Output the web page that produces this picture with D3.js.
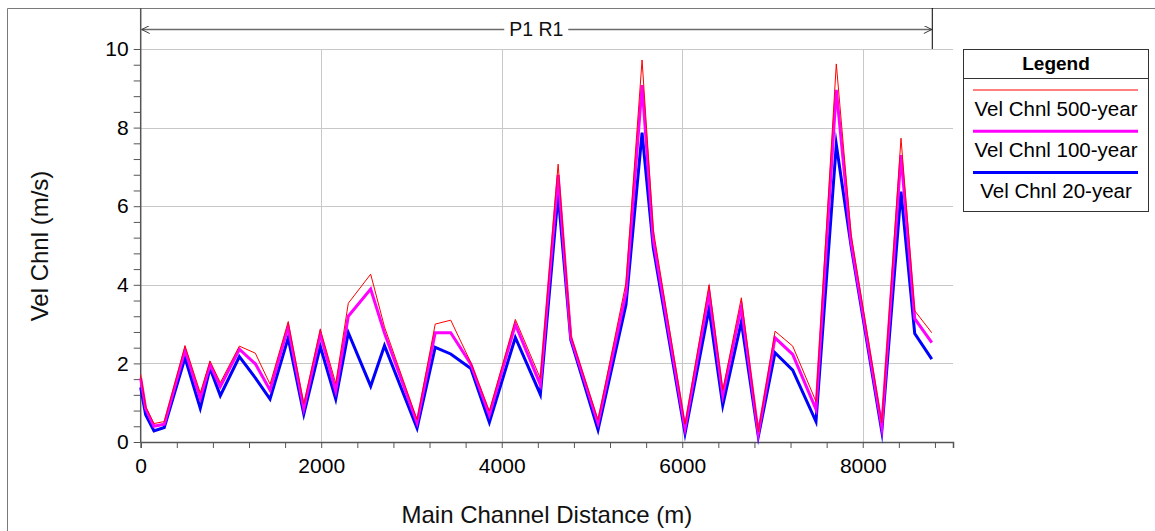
<!DOCTYPE html>
<html>
<head>
<meta charset="utf-8">
<script src="https://cdn.jsdelivr.net/npm/d3@7"></script>
<style>
  html, body { margin: 0; padding: 0; background: #fff; }
  svg { display: block; font-family: "Liberation Sans", Arial, sans-serif; }
</style>
</head>
<body>
<svg id="chart" width="1155" height="531"></svg>
<script>
// Main channel stations (m) and channel velocities (m/s) for each profile
const stations = [0, 55, 147, 261, 491, 660, 768, 882, 1093, 1270, 1433, 1634, 1807, 1990, 2161,
  2300, 2548, 2701, 3062, 3263, 3435, 3658, 3863, 4151, 4428, 4625, 4765, 5067, 5377, 5555,
  5679, 6031, 6297, 6449, 6655, 6843, 7028, 7224, 7482, 7707, 7870, 8211, 8424, 8576, 8765];
const vel500 = [1.72, 0.90, 0.47, 0.52, 2.45, 1.25, 2.06, 1.51, 2.44, 2.26, 1.47, 3.06, 0.97, 2.87, 1.49,
  3.53, 4.27, 2.93, 0.57, 3.00, 3.10, 2.02, 0.79, 3.12, 1.62, 7.07, 2.72, 0.56, 4.05, 9.72,
  5.40, 0.45, 4.00, 1.32, 3.67, 0.26, 2.82, 2.44, 1.03, 9.62, 5.30, 0.49, 7.73, 3.34, 2.78];
const vel100 = [1.62, 0.85, 0.40, 0.45, 2.34, 1.11, 1.97, 1.41, 2.36, 1.99, 1.32, 2.93, 0.85, 2.75, 1.30,
  3.20, 3.89, 2.77, 0.49, 2.78, 2.78, 1.98, 0.69, 2.99, 1.46, 6.80, 2.66, 0.48, 3.80, 9.08,
  5.15, 0.35, 3.80, 1.19, 3.44, 0.22, 2.65, 2.23, 0.83, 8.96, 5.10, 0.39, 7.30, 3.14, 2.53];
const vel20 = [1.39, 0.69, 0.28, 0.37, 2.14, 0.86, 1.88, 1.18, 2.17, 1.63, 1.09, 2.65, 0.71, 2.43, 1.09,
  2.78, 1.42, 2.45, 0.35, 2.41, 2.24, 1.87, 0.50, 2.66, 1.21, 6.30, 2.60, 0.31, 3.50, 7.87,
  4.95, 0.22, 3.39, 0.93, 3.06, 0.14, 2.27, 1.83, 0.52, 7.57, 5.00, 0.27, 6.37, 2.76, 2.11];

const xTicks = [0, 2000, 4000, 6000, 8000];
const yTicks = [0, 2, 4, 6, 8, 10];
const reachLabel = "P1 R1";
const legendTitle = "Legend";
const xTitle = "Main Channel Distance (m)";
const yTitle = "Vel Chnl (m/s)";

const series = [
  { name: "Vel Chnl 500-year", values: vel500, color: "#ff0000", width: 1 },
  { name: "Vel Chnl 100-year", values: vel100, color: "#ff00ff", width: 3 },
  { name: "Vel Chnl 20-year",  values: vel20,  color: "#0000ff", width: 3 }
];

const svg = d3.select("#chart");
const plot = { left: 140.7, right: 953, top: 49, bottom: 442 };

const x = d3.scaleLinear().domain([0, 9000]).range([plot.left, plot.right]);
const y = d3.scaleLinear().domain([0, 10]).range([plot.bottom, plot.top]);

// outer frame
svg.append("path")
  .attr("d", "M7.5,531 V8.5 H1155")
  .attr("fill", "none").attr("stroke", "#7a7a7a").attr("stroke-width", 1);

// grid
const grid = svg.append("g").attr("stroke", "#c8c8c8").attr("stroke-width", 1);
grid.selectAll("line.h").data(yTicks.filter(d => d > 0)).join("line")
  .attr("x1", plot.left).attr("x2", plot.right)
  .attr("y1", d => Math.round(y(d)) + 0.5).attr("y2", d => Math.round(y(d)) + 0.5);
grid.selectAll("line.v").data(xTicks.filter(d => d > 0)).join("line")
  .attr("x1", d => Math.round(x(d)) + 0.5).attr("x2", d => Math.round(x(d)) + 0.5)
  .attr("y1", plot.top).attr("y2", plot.bottom);

// axes
const xAxis = d3.axisBottom(x).tickValues(d3.range(0, 9001, 400)).tickSize(6)
  .tickFormat(d => xTicks.includes(d) ? d : "");
const gx = svg.append("g").attr("transform", `translate(0,${plot.bottom})`).call(xAxis);
gx.select(".domain").attr("stroke", "#555").attr("stroke-width", 1.5);
gx.selectAll(".tick line").attr("stroke", "#555");
gx.selectAll(".tick text").attr("font-size", 21).attr("fill", "#000")
  .attr("font-family", "Liberation Sans, Arial, sans-serif").attr("dy", "1.05em");

const yAxis = d3.axisLeft(y).tickValues(d3.range(0, 10.001, 0.4).map(v => +v.toFixed(1))).tickSize(7)
  .tickFormat(d => yTicks.includes(d) ? d : "");
const gy = svg.append("g").attr("transform", `translate(${plot.left},0)`).call(yAxis);
gy.select(".domain").remove();
gy.selectAll(".tick line").attr("stroke", "#555");
gy.selectAll(".tick text").attr("font-size", 21).attr("fill", "#000")
  .attr("font-family", "Liberation Sans, Arial, sans-serif").attr("x", -12);
// vertical axis line reaching up to the frame
svg.append("line").attr("x1", plot.left).attr("x2", plot.left).attr("y1", 8).attr("y2", plot.bottom)
  .attr("stroke", "#555").attr("stroke-width", 1.5);

// reach annotation
const reachEnd = x(stations[stations.length - 1]);
const defs = svg.append("defs");
["start", "end"].forEach(k => {
  defs.append("marker").attr("id", "arr-" + k)
    .attr("viewBox", "0 0 10 10").attr("refX", k === "end" ? 10 : 0).attr("refY", 5)
    .attr("markerWidth", 10).attr("markerHeight", 8).attr("markerUnits", "userSpaceOnUse")
    .attr("orient", "auto")
    .append("path")
    .attr("d", k === "end" ? "M0,0 L10,5 L0,10" : "M10,0 L0,5 L10,10")
    .attr("fill", "none").attr("stroke", "#333").attr("stroke-width", 1.2);
});
const reachY = 29;
const labelX = (plot.left + reachEnd) / 2;
svg.append("line").attr("x1", plot.left + 1).attr("x2", labelX - 32).attr("y1", reachY + 0.5).attr("y2", reachY + 0.5)
  .attr("stroke", "#6a6a6a").attr("stroke-width", 1.5).attr("marker-start", "url(#arr-start)");
svg.append("line").attr("x1", labelX + 32).attr("x2", reachEnd).attr("y1", reachY + 0.5).attr("y2", reachY + 0.5)
  .attr("stroke", "#6a6a6a").attr("stroke-width", 1.5).attr("marker-end", "url(#arr-end)");
svg.append("line").attr("x1", reachEnd + 0.5).attr("x2", reachEnd + 0.5).attr("y1", 8).attr("y2", plot.top)
  .attr("stroke", "#000").attr("stroke-width", 1);
svg.append("text").attr("x", labelX).attr("y", reachY + 7).attr("text-anchor", "middle")
  .attr("font-size", 19.5).attr("fill", "#111").text(reachLabel);

// data lines (20-year at the back, 500-year on top)
const line = d3.line().x((d, i) => x(stations[i])).y(d => y(d));
svg.append("g").selectAll("path").data(series.slice().reverse()).join("path")
  .attr("d", s => line(s.values))
  .attr("fill", "none").attr("stroke", s => s.color).attr("stroke-width", s => s.width)
  .attr("stroke-linejoin", "miter").attr("stroke-miterlimit", 10);

// axis titles
svg.append("text").attr("x", (plot.left + plot.right) / 2).attr("y", 523)
  .attr("text-anchor", "middle").attr("font-size", 24).attr("fill", "#111").text(xTitle);
svg.append("text").attr("transform", "translate(48,246) rotate(-90)")
  .attr("text-anchor", "middle").attr("font-size", 24).attr("fill", "#111").text(yTitle);

// legend
const lg = svg.append("g");
lg.append("rect").attr("x", 963.5).attr("y", 49.5).attr("width", 185).attr("height", 162)
  .attr("fill", "#fff").attr("stroke", "#333").attr("stroke-width", 1);
lg.append("line").attr("x1", 963.5).attr("x2", 1148.5).attr("y1", 78.5).attr("y2", 78.5)
  .attr("stroke", "#333");
lg.append("text").attr("x", 1056).attr("y", 69.5).attr("text-anchor", "middle")
  .attr("font-size", 19).attr("font-weight", "bold").attr("fill", "#000").text(legendTitle);
series.forEach((s, i) => {
  const ly = 90 + i * 41.3;
  lg.append("line").attr("x1", 973).attr("x2", 1138).attr("y1", ly).attr("y2", ly)
    .attr("stroke", s.color).attr("stroke-width", s.width);
  lg.append("text").attr("x", 1056).attr("y", ly + 25.5).attr("text-anchor", "middle")
    .attr("font-size", 20.5).attr("fill", "#000").text(s.name);
});
</script>
</body>
</html>
